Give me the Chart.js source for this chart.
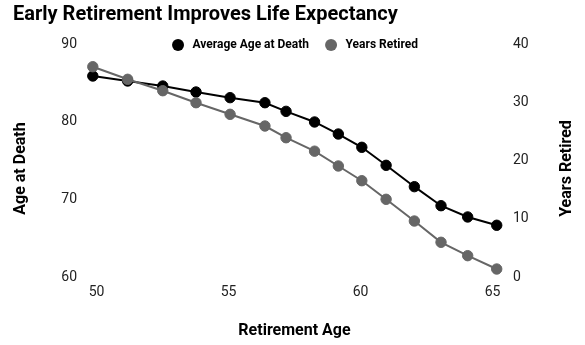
<!DOCTYPE html>
<html>
<head>
<meta charset="utf-8">
<script src="https://cdn.jsdelivr.net/npm/chart.js@4/dist/chart.umd.min.js"></script>
<style>
  html, body { margin: 0; padding: 0; background: #fff; }
  #wrap { width: 585px; height: 345px; }
</style>
</head>
<body>
<div id="wrap"><canvas id="c" width="585" height="345"></canvas></div>
<script>
// ---- data ----
const chartTitle = "Early Retirement Improves Life Expectancy";
const xTitle = "Retirement Age";
const yLeftTitle = "Age at Death";
const yRightTitle = "Years Retired";
const seriesNames = ["Average Age at Death", "Years Retired"];
const retirementAge = [49.86, 51.18, 52.51, 53.77, 55.06, 56.38, 57.18, 58.26, 59.16, 60.05, 60.97, 62.04, 63.05, 64.06, 65.16];
const ageAtDeath = [85.88, 85.24, 84.59, 83.82, 83.09, 82.44, 81.33, 79.96, 78.41, 76.70, 74.38, 71.63, 69.18, 67.73, 66.66];
const yearsRetired = [36.1, 33.94, 31.98, 29.92, 27.93, 25.92, 23.91, 21.6, 19.06, 16.53, 13.34, 9.61, 5.96, 3.66, 1.37];
const xTicks = [50, 55, 60, 65];
const yLeftTicks = [60, 70, 80, 90];
const yRightTicks = [0, 10, 20, 30, 40];

const FONT = "Roboto";
const TEXT = "#222";

const pts = (xs, ys) => xs.map((x, i) => ({x: x, y: ys[i]}));

const legendAndTitles = {
  id: "legendAndTitles",
  afterDraw(chart) {
    const {ctx, chartArea: a} = chart;
    ctx.save();
    // legend
    ctx.font = "bold 12px " + FONT;
    ctx.textBaseline = "middle";
    ctx.textAlign = "left";
    const r = 6, gapText = 14.5, gapItem = 16;
    const ds = chart.data.datasets;
    const widths = ds.map(d => ctx.measureText(d.label).width);
    let total = 0;
    widths.forEach((w, i) => { total += r + gapText + w + (i < widths.length - 1 ? gapItem + r : 0); });
    let x = (a.left + a.right) / 2 - total / 2 + r + 3.5;
    const ly = a.top + 1;
    ds.forEach((d, i) => {
      ctx.beginPath();
      ctx.arc(x, ly, r, 0, Math.PI * 2);
      ctx.fillStyle = d.pointBackgroundColor;
      ctx.fill();
      ctx.fillStyle = "#000";
      ctx.fillText(d.label, x + gapText, ly);
      x += gapText + widths[i] + gapItem + r;
    });
    // y axis titles
    ctx.font = "bold 16px " + FONT;
    ctx.textAlign = "center";
    ctx.fillStyle = "#000";
    const cy = (a.top + a.bottom) / 2 + 8;
    [[21, yLeftTitle], [567, yRightTitle]].forEach(([tx, t]) => {
      ctx.save();
      ctx.translate(tx, cy);
      ctx.rotate(-Math.PI / 2);
      ctx.fillText(t, 0, 0);
      ctx.restore();
    });
    ctx.restore();
  }
};

new Chart(document.getElementById("c"), {
  type: "line",
  data: {
    datasets: [
      {
        label: seriesNames[0],
        data: pts(retirementAge, ageAtDeath),
        yAxisID: "y",
        borderColor: "#000",
        backgroundColor: "#000",
        pointBackgroundColor: "#000",
        pointBorderColor: "#000",
        borderWidth: 2,
        pointRadius: 5.2,
        pointBorderWidth: 1,
        clip: false,
        order: 1
      },
      {
        label: seriesNames[1],
        data: pts(retirementAge, yearsRetired),
        yAxisID: "y1",
        borderColor: "#666",
        backgroundColor: "#666",
        pointBackgroundColor: "#666",
        pointBorderColor: "#666",
        borderWidth: 2,
        pointRadius: 5.2,
        pointBorderWidth: 1,
        clip: false,
        order: 0
      }
    ]
  },
  options: {
    responsive: false,
    animation: false,
    events: [],
    layout: { padding: { left: 13, right: 0, top: 0, bottom: 0 } },
    plugins: {
      legend: { display: false },
      tooltip: { enabled: false },
      title: {
        display: true,
        text: chartTitle,
        align: "start",
        color: "#000",
        font: { family: FONT, size: 20, weight: "bold" },
        padding: { top: 3, bottom: 17 }
      }
    },
    scales: {
      x: {
        type: "linear",
        min: 49.5,
        max: 65.5,
        grid: { display: false, drawTicks: false },
        border: { display: false },
        afterBuildTicks: s => { s.ticks = xTicks.map(v => ({value: v})); },
        afterFit: s => { s.height = 68; },
        ticks: { padding: 7.5, color: TEXT, font: { family: FONT, size: 14 } },
        title: {
          display: true, text: xTitle, color: "#000",
          font: { family: FONT, size: 16, weight: "bold" },
          padding: { top: 0, bottom: 4 }
        }
      },
      y: {
        position: "left",
        min: 60,
        max: 90,
        grid: { display: false, drawTicks: false },
        border: { display: false },
        afterBuildTicks: s => { s.ticks = yLeftTicks.map(v => ({value: v})); },
        afterFit: s => { s.width = 83.3 - 13; },
        ticks: { padding: 6.3, color: TEXT, font: { family: FONT, size: 14 } }
      },
      y1: {
        position: "right",
        min: 0,
        max: 40,
        grid: { display: false, drawTicks: false },
        border: { display: false },
        afterBuildTicks: s => { s.ticks = yRightTicks.map(v => ({value: v})); },
        afterFit: s => { s.width = 585 - 505.7; },
        ticks: { padding: 7.3, color: TEXT, font: { family: FONT, size: 14 } }
      }
    }
  },
  plugins: [legendAndTitles]
});
</script>
</body>
</html>
